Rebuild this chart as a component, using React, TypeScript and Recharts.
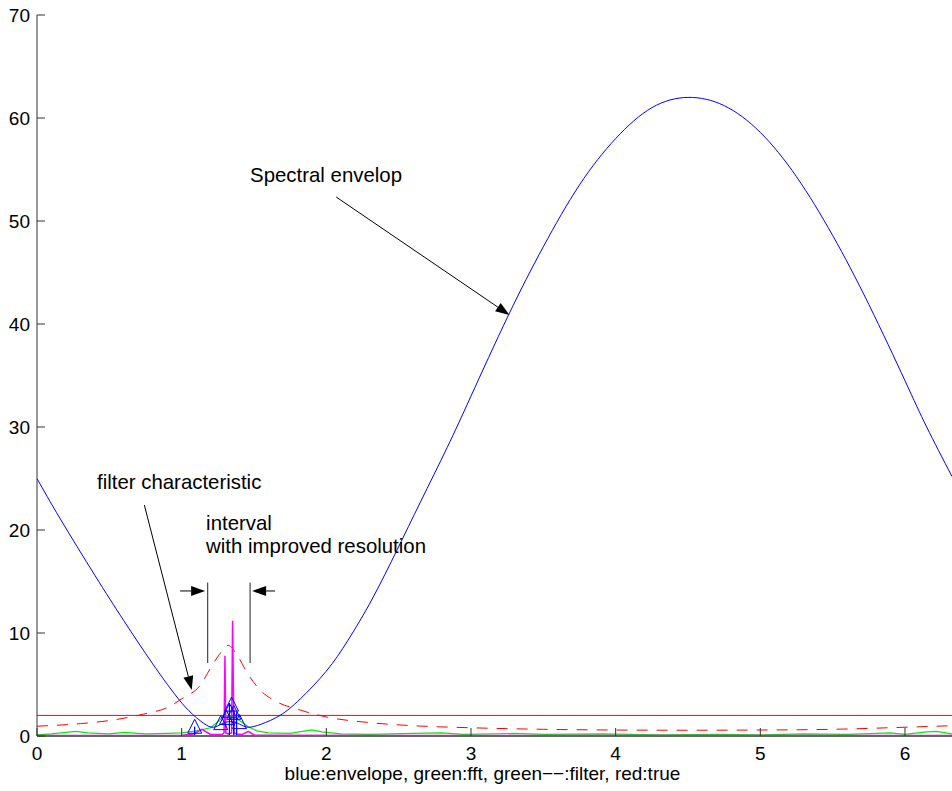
import { ComposedChart, Line, Scatter, XAxis, YAxis, ReferenceLine, ReferenceDot } from 'recharts'

const FONT = '"Liberation Sans", Arial, Helvetica, sans-serif'

const X_TICKS = [0, 1, 2, 3, 4, 5, 6]
const Y_TICKS = [0, 10, 20, 30, 40, 50, 60, 70]
const X_MAX = 6.325

// blue: spectral envelope
const envX = [0, 0.16, 0.4, 0.6, 0.8, 0.95, 1.05, 1.15, 1.22, 1.28, 1.34, 1.4, 1.46, 1.55, 1.68, 1.82, 2.0, 2.15, 2.317, 2.49, 2.65, 2.835, 3.0, 3.257, 3.5, 3.75, 4.0, 4.25, 4.5, 4.75, 5.0, 5.25, 5.5, 5.75, 6.0, 6.15, 6.325]
const envY = [25.0, 21.1, 15.6, 11.2, 7.0, 4.1, 2.45, 1.25, 0.85, 1.2, 1.4, 1.15, 0.85, 1.15, 2.0, 3.6, 6.3, 9.3, 13.3, 18.1, 22.7, 28.0, 33.0, 40.8, 47.5, 53.5, 58.0, 61.0, 62.0, 61.2, 58.6, 54.3, 48.6, 41.9, 34.5, 30.0, 25.2]

// red dashed: filter characteristic
const filtX = [0, 0.3, 0.5, 0.76, 0.9, 1.01, 1.13, 1.2, 1.26, 1.32, 1.39, 1.45, 1.54, 1.66, 1.8, 2.0, 2.3, 2.6, 3.0, 3.5, 4.0, 4.5, 5.0, 5.5, 6.0, 6.325]
const filtY = [0.95, 1.2, 1.5, 2.2, 2.75, 3.7, 4.95, 6.6, 7.9, 8.8, 7.7, 6.2, 4.5, 3.3, 2.6, 1.85, 1.3, 1.0, 0.8, 0.65, 0.58, 0.56, 0.58, 0.65, 0.85, 1.0]

// red solid: true level
const trueX = [0, X_MAX]
const trueY = [2.0, 2.0]

// green: fft
const fftX = [0, 0.1, 0.2, 0.27, 0.35, 0.5, 0.6, 0.75, 0.9, 1.0, 1.1, 1.2, 1.26, 1.3, 1.34, 1.4, 1.46, 1.52, 1.6, 1.75, 1.9, 1.97, 2.1, 2.3, 2.6, 2.8, 2.95, 3.3, 3.5, 3.9, 4.3, 4.7, 5.0, 5.3, 5.6, 5.9, 6.0, 6.15, 6.22, 6.325]
const fftY = [0.1, 0.2, 0.35, 0.45, 0.3, 0.2, 0.35, 0.2, 0.25, 0.3, 0.5, 0.8, 1.5, 2.0, 1.9, 1.5, 0.9, 0.5, 0.3, 0.25, 0.6, 0.4, 0.2, 0.15, 0.25, 0.3, 0.15, 0.25, 0.15, 0.2, 0.1, 0.15, 0.1, 0.2, 0.15, 0.3, 0.15, 0.4, 0.45, 0.2]

// magenta: high resolution spectrum
const hiresX = [0, 0.5, 1.0, 1.08, 1.14, 1.2, 1.28, 1.293, 1.299, 1.305, 1.32, 1.345, 1.352, 1.361, 1.38, 1.42, 1.46, 1.5, 1.6, 2.5, 4.0, 5.5, 6.325]
const hiresY = [0.05, 0.06, 0.08, 0.2, 0.65, 0.15, 0.15, 0.3, 7.8, 0.3, 0.2, 0.3, 11.2, 0.3, 0.2, 0.15, 0.45, 0.1, 0.08, 0.06, 0.06, 0.06, 0.05]

// blue triangles and stems
const triX = [1.09, 1.27, 1.31, 1.33, 1.345, 1.36, 1.4]
const triY = [0.85, 1.2, 1.7, 2.4, 3.0, 2.2, 1.3]
const stemX = [1.09, 1.33, 1.36, 1.38]
const stemY = [0.9, 3.2, 2.5, 2.3]

const toRows = (xs: number[], ys: number[]) => xs.map((x, i) => ({ x, y: ys[i] }))
const stemRows = stemX.flatMap((x, i) => [{ x, y: 0 }, { x, y: stemY[i] }, { x, y: 0 }])

const YTick = ({ x, y, payload }: any) => (
  <g>
    <line x1={x} y1={y} x2={x + 8} y2={y} stroke="#333" />
    <text x={x - 7} y={y + 7} textAnchor="end" fontSize={19} fontFamily={FONT} fill="#000">
      {payload.value}
    </text>
  </g>
)

const XTick = ({ x, y, payload }: any) => (
  <g>
    <line x1={x} y1={y} x2={x} y2={y - 8} stroke="#333" />
    <text x={x} y={y + 24} textAnchor="middle" fontSize={19} fontFamily={FONT} fill="#000">
      {payload.value}
    </text>
  </g>
)

const Arrow = ({ x1, y1, x2, y2 }: any) => {
  const a = Math.atan2(y2 - y1, x2 - x1)
  const len = 14
  const w = 5
  const bx = x2 - len * Math.cos(a)
  const by = y2 - len * Math.sin(a)
  const pts = [
    [x2, y2],
    [bx + w * Math.sin(a), by - w * Math.cos(a)],
    [bx - w * Math.sin(a), by + w * Math.cos(a)],
  ].map(p => p.join(',')).join(' ')
  return (
    <g>
      <line x1={x1} y1={y1} x2={bx} y2={by} stroke="#000" strokeWidth={1} />
      <polygon points={pts} fill="#000" />
    </g>
  )
}

const Note = (text: string) => ({ cx, cy }: any) => (
  <text x={cx} y={cy} fontSize={20.4} fontFamily={FONT} fill="#000">{text}</text>
)

const Triangle = ({ cx, cy }: any) => (
  <path d={`M${cx},${cy - 8} L${cx - 7},${cy + 6} L${cx + 7},${cy + 6} Z`} fill="none" stroke="#0000ff" strokeWidth={1} />
)

export default function App() {
  return (
    <div style={{ position: 'absolute', left: 0, top: 0, background: '#fff' }}>
      <ComposedChart width={952} height={791} margin={{ top: 15, right: 0, bottom: 0, left: 0 }}>
        <XAxis
          type="number"
          dataKey="x"
          domain={[0, X_MAX]}
          ticks={X_TICKS}
          allowDataOverflow
          height={55}
          tickSize={0}
          tickMargin={0}
          tick={<XTick />}
          axisLine={{ stroke: '#666', strokeWidth: 2 }}
          label={{
            content: ({ viewBox }: any) => (
              <text x={viewBox.x + viewBox.width / 2 - 12} y={viewBox.y + 44} textAnchor="middle" fontSize={19} fontFamily={FONT} fill="#000">
                blue:envelope, green:fft, green−−:filter, red:true
              </text>
            ),
          }}
        />
        <YAxis
          type="number"
          domain={[0, 70]}
          ticks={Y_TICKS}
          allowDataOverflow
          width={37}
          tickSize={0}
          tickMargin={0}
          tick={<YTick />}
          axisLine={{ stroke: '#333' }}
        />

        <Line data={toRows(trueX, trueY)} dataKey="y" type="linear" stroke="#ff0000" strokeWidth={1} dot={false} isAnimationActive={false} />
        <Line data={toRows(filtX, filtY)} dataKey="y" type="monotone" stroke="#ff0000" strokeWidth={1} strokeDasharray="11 9" dot={false} isAnimationActive={false} />
        <Line data={toRows(fftX, fftY)} dataKey="y" type="linear" stroke="#00ee00" strokeWidth={1.2} dot={false} isAnimationActive={false} />
        <Line data={toRows(hiresX, hiresY)} dataKey="y" type="linear" stroke="#ff00ff" strokeWidth={1.5} dot={false} isAnimationActive={false} />
        <Line data={stemRows} dataKey="y" type="linear" stroke="#0000ff" strokeWidth={1} dot={false} isAnimationActive={false} />
        <Scatter data={toRows(triX, triY)} dataKey="y" shape={<Triangle />} isAnimationActive={false} />
        <Line data={toRows(envX, envY)} dataKey="y" type="natural" stroke="#0000ff" strokeWidth={1} dot={false} isAnimationActive={false} />

        <ReferenceLine segment={[{ x: 2.068, y: 52.33 }, { x: 3.266, y: 40.87 }]} shape={<Arrow />} />
        <ReferenceLine segment={[{ x: 0.742, y: 22.43 }, { x: 1.07, y: 4.47 }]} shape={<Arrow />} />
        <ReferenceLine segment={[{ x: 1.18, y: 14.9 }, { x: 1.18, y: 7.09 }]} stroke="#222" strokeWidth={1} />
        <ReferenceLine segment={[{ x: 1.473, y: 14.9 }, { x: 1.473, y: 7.09 }]} stroke="#222" strokeWidth={1} />
        <ReferenceLine segment={[{ x: 0.989, y: 14.08 }, { x: 1.162, y: 14.08 }]} shape={<Arrow />} />
        <ReferenceLine segment={[{ x: 1.646, y: 14.08 }, { x: 1.487, y: 14.08 }]} shape={<Arrow />} />

        <ReferenceDot x={1.473} y={53.83} r={0} shape={Note('Spectral envelop')} />
        <ReferenceDot x={0.415} y={23.98} r={0} shape={Note('filter characteristic')} />
        <ReferenceDot x={1.169} y={20.0} r={0} shape={Note('interval')} />
        <ReferenceDot x={1.169} y={17.77} r={0} shape={Note('with improved resolution')} />
      </ComposedChart>
    </div>
  )
}
